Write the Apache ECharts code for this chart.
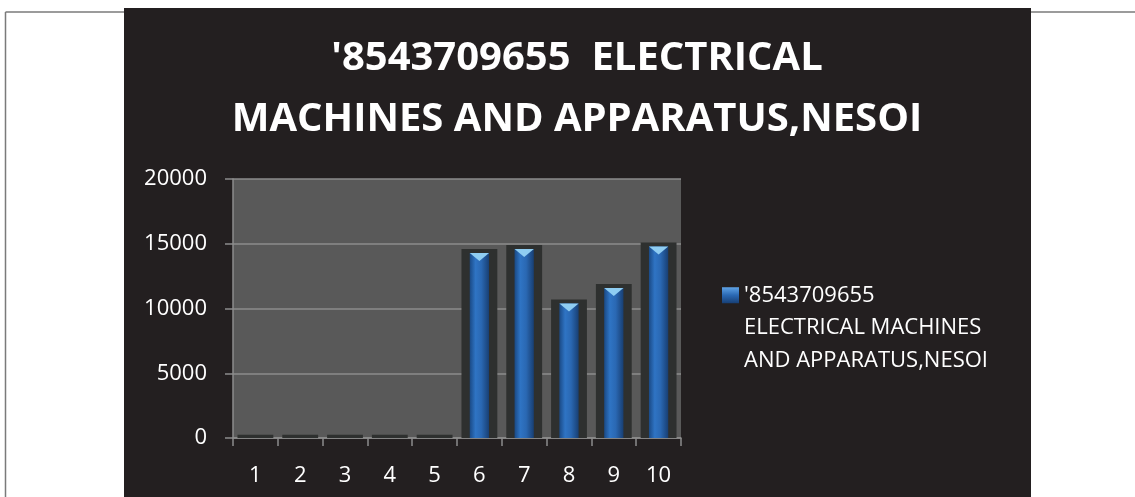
<!DOCTYPE html>
<html>
<head>
<meta charset="utf-8">
<script src="https://cdn.jsdelivr.net/npm/echarts@6/dist/echarts.min.js"></script>
<style>
html,body{margin:0;padding:0;background:#fff;}
#chart{width:1135px;height:497px;}
</style>
</head>
<body>
<div id="chart"></div>
<script>
const categories = ['1','2','3','4','5','6','7','8','9','10'];
const values = [250, 250, 250, 250, 250, 14600, 14900, 10700, 11900, 15100];
const yTicks = [0, 5000, 10000, 15000, 20000];
const seriesName = "'8543709655\nELECTRICAL MACHINES\nAND APPARATUS,NESOI";
const titleText = "'8543709655  ELECTRICAL\nMACHINES AND APPARATUS,NESOI";

const chart = echarts.init(document.getElementById('chart'));

const blueGrad = new echarts.graphic.LinearGradient(0, 0, 1, 0, [
  {offset: 0, color: '#1a4a86'},
  {offset: 0.3, color: '#2f74c4'},
  {offset: 0.6, color: '#2a68b3'},
  {offset: 1, color: '#183f73'}
]);

function renderItem(params, api) {
  const top = api.coord([api.value(0), api.value(1)]);
  const base = api.coord([api.value(0), 0]);
  const band = api.size([1, 0])[0];
  const cx = top[0];
  const outerW = band * 0.8;
  const innerW = band * 0.43;
  const inset = 4;
  const children = [{
    type: 'rect',
    shape: {x: cx - outerW / 2, y: top[1], width: outerW, height: base[1] - top[1]},
    style: {fill: '#2e302f'}
  }];
  const innerTop = top[1] + inset;
  if (base[1] - innerTop > 1) {
    children.push({
      type: 'rect',
      shape: {x: cx - innerW / 2, y: innerTop, width: innerW, height: base[1] - innerTop},
      style: {fill: blueGrad}
    });
    children.push({
      type: 'polygon',
      shape: {points: [[cx - innerW / 2, innerTop], [cx + innerW / 2, innerTop], [cx, innerTop + 8]]},
      style: {fill: '#8fcdf2'}
    });
  }
  return {type: 'group', children: children};
}

chart.setOption({
  animation: false,
  backgroundColor: '#ffffff',
  graphic: [
    {type: 'rect', z: -10, shape: {x: 124, y: 8, width: 907, height: 489}, style: {fill: '#231f20'}},
    {type: 'line', z: -11, shape: {x1: 5.5, y1: 12, x2: 124, y2: 12}, style: {stroke: '#7a7a7a', lineWidth: 1.5}},
    {type: 'line', z: -11, shape: {x1: 1031, y1: 12, x2: 1135, y2: 12}, style: {stroke: '#7a7a7a', lineWidth: 1.5}},
    {type: 'line', z: -11, shape: {x1: 5.5, y1: 12, x2: 5.5, y2: 497}, style: {stroke: '#7a7a7a', lineWidth: 1.5}}
  ],
  title: {
    text: titleText,
    left: 577,
    textAlign: 'center',
    top: 28,
    padding: 0,
    textStyle: {
      color: '#ffffff',
      fontFamily: 'Open Sans',
      fontWeight: 'bold',
      fontSize: 40,
      lineHeight: 61
    }
  },
  legend: {
    data: [{name: seriesName, icon: 'rect', itemStyle: {color: new echarts.graphic.LinearGradient(0,0,0,1,[{offset:0,color:'#5fa3e6'},{offset:0.5,color:'#2a68b3'},{offset:1,color:'#173f75'}])}}],
    formatter: function (name) { return '\n\n' + name; },
    left: 722,
    top: 214,
    padding: 0,
    itemWidth: 17,
    itemHeight: 16,
    itemGap: 0,
    textStyle: {
      color: '#ffffff',
      fontFamily: 'Open Sans',
      fontSize: 22,
      lineHeight: 32.5
    }
  },
  grid: {
    left: 233, right: 454, top: 179, bottom: 59,
    show: true, backgroundColor: '#595959', borderWidth: 0
  },
  xAxis: {
    type: 'category',
    data: categories,
    axisLine: {show: true, lineStyle: {color: '#8c8c8c', width: 1.5}},
    axisTick: {show: true, length: 8, lineStyle: {color: '#8c8c8c', width: 1.5}},
    axisLabel: {color: '#ffffff', fontFamily: 'Open Sans', fontSize: 22, margin: 27},
    splitLine: {show: false}
  },
  yAxis: {
    type: 'value',
    min: yTicks[0],
    max: yTicks[yTicks.length - 1],
    interval: yTicks[1] - yTicks[0],
    axisLine: {show: true, lineStyle: {color: '#8c8c8c', width: 1.5}},
    axisTick: {show: true, length: 8, lineStyle: {color: '#8c8c8c', width: 1.5}},
    axisLabel: {color: '#ffffff', fontFamily: 'Open Sans', fontSize: 22, margin: 26, formatter: function (v) { return String(v); }},
    splitLine: {show: true, lineStyle: {color: '#8c8c8c', width: 1.5}}
  },
  series: [{
    name: seriesName,
    type: 'custom',
    renderItem: renderItem,
    itemStyle: {color: '#2a68b3'},
    encode: {x: 0, y: 1},
    data: values.map((v, i) => [i, v]),
    z: 3
  }]
});
</script>
</body>
</html>
